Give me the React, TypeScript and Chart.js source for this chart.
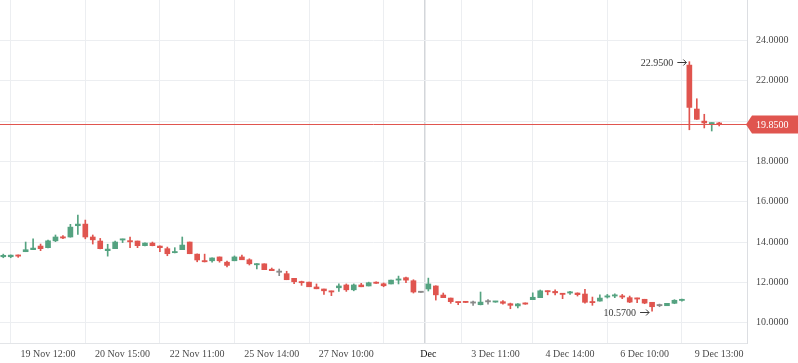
import React, { useEffect, useRef } from "react";
import { Chart, registerables } from "chart.js";

Chart.register(...registerables);

// OHLC per candle (index = candle slot)
const opens = [
  13.27, 13.27, 13.35, 13.52, 13.62, 13.80, 13.72, 14.06, 14.26, 14.25,
  14.81, 14.89, 14.25, 14.05, 13.57, 13.67, 14.10, 14.06, 14.05, 13.82,
  13.95, 13.80, 13.67, 13.47, 13.62, 14.00, 13.40, 13.07, 13.07, 13.26,
  13.00, 13.07, 13.26, 13.12, 12.87, 12.92, 12.65, 12.50, 12.43, 12.20,
  12.03, 12.01, 11.77, 11.67, 11.57, 11.73, 11.87, 11.63, 11.87, 11.82,
  12.00, 11.93, 11.92, 12.11, 12.23, 12.08, 11.50, 11.67, 11.82, 11.37,
  11.22, 11.02, 11.02, 10.97, 10.89, 11.03, 11.02, 11.04, 10.94, 10.83,
  10.95, 11.14, 11.24, 11.58, 11.55, 11.45, 11.47, 11.47, 11.42, 11.02,
  11.07, 11.27, 11.32, 11.32, 11.24, 11.22, 11.16, 11.01, 10.84, 10.84,
  10.96, 11.10, 22.78, 20.60, 20.00, 19.87, 19.91,
];
const highs = [
  13.40, 13.36, 13.36, 14.00, 14.16, 13.90, 14.10, 14.35, 14.32, 14.88,
  15.34, 15.09, 14.35, 14.18, 13.89, 14.05, 14.15, 14.25, 14.05, 13.96,
  14.00, 13.81, 13.75, 13.72, 14.25, 14.00, 13.41, 13.40, 13.22, 13.26,
  13.06, 13.31, 13.35, 13.17, 12.93, 12.92, 12.71, 12.66, 12.55, 12.20,
  12.06, 12.01, 11.92, 11.67, 11.57, 11.92, 11.92, 11.92, 11.95, 12.01,
  12.02, 11.97, 12.11, 12.31, 12.26, 12.13, 11.50, 12.21, 11.83, 11.47,
  11.22, 11.02, 11.02, 11.07, 11.52, 11.15, 11.06, 11.09, 10.97, 10.94,
  10.98, 11.48, 11.62, 11.58, 11.63, 11.45, 11.55, 11.48, 11.65, 11.27,
  11.38, 11.40, 11.43, 11.40, 11.32, 11.22, 11.16, 11.01, 10.92, 10.96,
  11.14, 11.17, 22.95, 21.11, 20.34, 19.92, 19.94,
];
const lows = [
  13.22, 13.22, 13.24, 13.52, 13.62, 13.57, 13.71, 14.02, 14.17, 14.24,
  14.38, 14.16, 13.90, 13.66, 13.30, 13.67, 13.97, 13.72, 13.72, 13.81,
  13.81, 13.52, 13.32, 13.46, 13.62, 13.42, 13.02, 13.01, 13.00, 13.00,
  12.77, 13.07, 13.12, 12.86, 12.67, 12.63, 12.58, 12.33, 12.13, 11.93,
  11.85, 11.78, 11.68, 11.40, 11.34, 11.55, 11.55, 11.58, 11.78, 11.82,
  11.95, 11.78, 11.92, 11.92, 11.98, 11.47, 11.50, 11.57, 11.12, 11.24,
  10.96, 10.89, 10.99, 10.86, 10.88, 10.92, 11.01, 10.92, 10.69, 10.73,
  10.91, 11.14, 11.24, 11.38, 11.37, 11.19, 11.40, 11.32, 10.97, 10.86,
  11.07, 11.22, 11.24, 11.19, 10.99, 10.99, 10.94, 10.57, 10.79, 10.84,
  10.94, 11.06, 19.57, 20.08, 19.66, 19.51, 19.76,
];
const closes = [
  13.34, 13.35, 13.30, 13.62, 13.70, 13.67, 14.06, 14.25, 14.20, 14.74,
  14.89, 14.25, 14.11, 13.67, 13.65, 14.00, 14.15, 14.01, 13.82, 13.95,
  13.82, 13.72, 13.42, 13.50, 13.85, 13.42, 13.11, 13.02, 13.21, 13.07,
  12.84, 13.26, 13.12, 12.92, 12.92, 12.63, 12.58, 12.50, 12.13, 12.03,
  11.98, 11.78, 11.68, 11.58, 11.52, 11.82, 11.63, 11.87, 11.78, 11.98,
  11.95, 11.83, 12.11, 12.15, 12.11, 11.52, 11.50, 11.92, 11.38, 11.24,
  11.04, 10.99, 11.00, 10.97, 11.02, 11.03, 11.04, 10.96, 10.86, 10.93,
  10.92, 11.26, 11.58, 11.53, 11.48, 11.40, 11.52, 11.39, 11.01, 10.99,
  11.22, 11.32, 11.35, 11.27, 11.02, 11.17, 10.97, 10.79, 10.84, 10.96,
  11.11, 11.14, 20.68, 20.09, 19.91, 19.91, 19.85,
];

// x-axis tick labels at candle slots
const tickSlots = [6, 16, 26, 36, 46, 57, 66, 76, 86, 96];
const tickLabels = [
  "19 Nov 12:00", "20 Nov 15:00", "22 Nov 11:00", "25 Nov 14:00", "27 Nov 10:00",
  "Dec", "3 Dec 11:00", "4 Dec 14:00", "6 Dec 10:00", "9 Dec 13:00",
];
const extraGridSlots = [56];
const monthSlot = 57;

// y-axis ticks
const priceTicks = [10, 12, 14, 16, 18, 20, 22, 24];

const RED = "#e0554f";
const GREEN = "#55a381";
const GRAY = "#8a8a8a";
const FONT = "'Liberation Serif', 'Times New Roman', serif";

function candleColor(i: number) {
  if (closes[i] > opens[i]) return GREEN;
  if (closes[i] < opens[i]) return RED;
  return GRAY;
}

export default function App() {
  const ref = useRef<HTMLCanvasElement | null>(null);

  useEffect(() => {
    const canvas = ref.current;
    if (!canvas) return;
    const lastClose = closes[closes.length - 1];

    let hiIdx = 0;
    let loIdx = 0;
    highs.forEach((h, i) => { if (h > highs[hiIdx]) hiIdx = i; });
    lows.forEach((l, i) => { if (l < lows[loIdx]) loIdx = i; });

    const drawMarker = (ctx: any, cx: number, y: number, text: string) => {
      const tip = cx - 3;
      const tail = tip - 9;
      ctx.strokeStyle = "#3a3a3a";
      ctx.lineWidth = 1;
      ctx.beginPath();
      ctx.moveTo(tail, y + 0.5);
      ctx.lineTo(tip, y + 0.5);
      ctx.moveTo(tip - 3, y - 2.5);
      ctx.lineTo(tip, y + 0.5);
      ctx.lineTo(tip - 3, y + 3.5);
      ctx.stroke();
      ctx.fillStyle = "#3a3a3a";
      ctx.textAlign = "right";
      ctx.textBaseline = "middle";
      ctx.font = `10px ${FONT}`;
      ctx.fillText(text, tail - 4, y + 1);
    };

    const overlay = {
      id: "overlay",
      afterDraw(chart: any) {
        const { ctx, chartArea, scales } = chart;
        const xs = scales.x;
        const ys = scales.y;
        ctx.save();
        // last price line
        const py = Math.round(ys.getPixelForValue(lastClose)) + 0.5;
        ctx.strokeStyle = RED;
        ctx.lineWidth = 1;
        ctx.beginPath();
        ctx.moveTo(chartArea.left, py);
        ctx.lineTo(chartArea.right, py);
        ctx.stroke();
        // price box
        const bx = chartArea.right - 1;
        const bh = 18;
        ctx.fillStyle = RED;
        ctx.beginPath();
        ctx.moveTo(bx, py);
        ctx.lineTo(bx + 6, py - bh / 2);
        ctx.lineTo(chart.width, py - bh / 2);
        ctx.lineTo(chart.width, py + bh / 2);
        ctx.lineTo(bx + 6, py + bh / 2);
        ctx.closePath();
        ctx.fill();
        ctx.fillStyle = "#ffffff";
        ctx.font = `10px ${FONT}`;
        ctx.textAlign = "left";
        ctx.textBaseline = "middle";
        ctx.fillText(lastClose.toFixed(4), chartArea.right + 9, py + 0.5);

        // high / low annotations
        drawMarker(ctx, xs.getPixelForValue(hiIdx), Math.round(ys.getPixelForValue(highs[hiIdx])), highs[hiIdx].toFixed(4));
        drawMarker(ctx, xs.getPixelForValue(loIdx), Math.round(ys.getPixelForValue(lows[loIdx])) + 1, lows[loIdx].toFixed(4));
        ctx.restore();
      },
    };

    const wickData = highs.map((h, i) => ({ x: i, y: [lows[i], h] }));
    const bodyData = opens.map((o, i) => ({ x: i, y: [o, closes[i]] }));

    const chart = new Chart(canvas, {
      type: "bar",
      data: {
        datasets: [
          {
            data: wickData as any,
            backgroundColor: (c: any) => candleColor(c.dataIndex),
            barThickness: 1,
            grouped: false,
            minBarLength: 1,
            borderWidth: 0,
          } as any,
          {
            data: bodyData as any,
            backgroundColor: (c: any) => candleColor(c.dataIndex),
            barThickness: 5,
            grouped: false,
            minBarLength: 1.2,
            borderWidth: 0,
          } as any,
        ],
      },
      options: {
        animation: false,
        responsive: false,
        events: [],
        layout: { padding: 0 },
        plugins: { legend: { display: false }, tooltip: { enabled: false } },
        scales: {
          x: {
            type: "linear",
            min: -0.44,
            max: 99.73,
            offset: false,
            afterFit: (s: any) => {
              s.height = 20;
              s.paddingLeft = 0;
              s.paddingRight = 0;
              s.paddingTop = 0;
              s.paddingBottom = 0;
            },
            afterBuildTicks: (s: any) => {
              const all = [...tickSlots, ...extraGridSlots].sort((a, b) => a - b);
              s.ticks = all.map((v) => ({ value: v }));
            },
            grid: {
              color: (c: any) => (c.tick && c.tick.value === monthSlot ? "#d3d6da" : "#eceef1"),
              lineWidth: (c: any) => (c.tick && c.tick.value === monthSlot ? 1.5 : 1),
              drawTicks: false,
            },
            border: { display: true, color: "#e3e5e8" },
            ticks: {
              autoSkip: false,
              maxRotation: 0,
              padding: 5,
              font: { family: FONT, size: 10 },
              color: (c: any) => (c.tick && c.tick.value === monthSlot ? "#111111" : "#4a4a4a"),
              callback: (v: any) => {
                const k = tickSlots.indexOf(Number(v));
                return k >= 0 ? tickLabels[k] : "";
              },
            },
          },
          y: {
            type: "linear",
            position: "right",
            min: 8.99,
            max: 26.01,
            afterFit: (s: any) => {
              s.width = 51;
              s.paddingTop = 0;
              s.paddingBottom = 0;
              s.paddingLeft = 0;
              s.paddingRight = 0;
            },
            afterBuildTicks: (s: any) => {
              s.ticks = priceTicks.map((v) => ({ value: v }));
            },
            grid: { color: "#eceef1", drawTicks: false },
            border: { display: true, color: "#dcdee2" },
            ticks: {
              padding: 9,
              font: { family: FONT, size: 10 },
              color: "#4a4a4a",
              callback: (v: any) => {
                const last = closes[closes.length - 1];
                if (Math.abs(Number(v) - last) < 0.6) return "";
                return Number(v).toFixed(4);
              },
            },
          },
        },
      },
      plugins: [overlay],
    } as any);

    return () => chart.destroy();
  }, []);

  return (
    <div style={{ position: "fixed", left: 0, top: 0, width: 798, height: 363, background: "#ffffff" }}>
      <canvas ref={ref} width={798} height={363} style={{ display: "block", width: 798, height: 363 }} />
    </div>
  );
}
